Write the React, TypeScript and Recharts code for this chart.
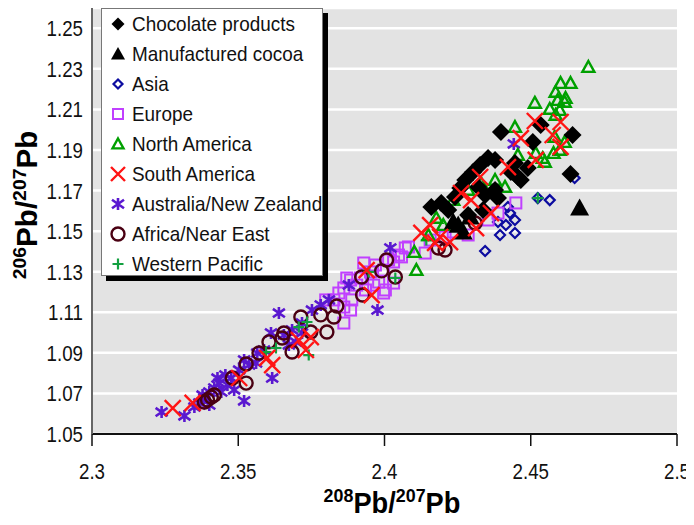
import React from 'react';
import { ScatterChart, Scatter, XAxis, YAxis, CartesianGrid, Label } from 'recharts';

const FONT = "'Liberation Sans', Arial, sans-serif";
const SQUEEZE = 0.85;

const xTicks = [2.3, 2.35, 2.4, 2.45, 2.5];
const yTicks = [1.05, 1.07, 1.09, 1.11, 1.13, 1.15, 1.17, 1.19, 1.21, 1.23, 1.25];

const chocolate = [
  [2.4398, 1.1989], [2.4534, 1.2023], [2.4507, 1.1939], [2.4643, 1.1974], [2.4636, 1.1782],
  [2.4378, 1.1851], [2.4446, 1.1836], [2.449, 1.1811], [2.4456, 1.1767], [2.4327, 1.1826],
  [2.4354, 1.186], [2.4276, 1.1752], [2.4259, 1.1713], [2.432, 1.1718], [2.4378, 1.1703],
  [2.4388, 1.1663], [2.4344, 1.1678], [2.4241, 1.1668], [2.416, 1.1619], [2.4194, 1.1639],
  [2.4218, 1.1604], [2.4303, 1.1792], [2.4432, 1.1792], [2.4466, 1.1752], [2.4286, 1.158],
  [2.4337, 1.1604],
];

const cocoa = [
  [2.4667, 1.1614], [2.4252, 1.153], [2.4293, 1.157], [2.4269, 1.1496], [2.4235, 1.1545],
];

const asia = [
  [2.4524, 1.1663], [2.4565, 1.1653], [2.465, 1.1762], [2.4422, 1.1619], [2.4429, 1.1589],
  [2.4446, 1.1555], [2.4415, 1.153], [2.4395, 1.1481], [2.4446, 1.1491], [2.4344, 1.1402],
  [2.4388, 1.1545],
];

const europe = [
  [2.4449, 1.1639], [2.4388, 1.1589], [2.4354, 1.1555], [2.4286, 1.1481], [2.4207, 1.1471],
  [2.4139, 1.1392], [2.4082, 1.1422], [2.4058, 1.1373], [2.4071, 1.1417], [2.4031, 1.1348],
  [2.4031, 1.1244], [2.4003, 1.121], [2.3997, 1.1308], [2.398, 1.1249], [2.3969, 1.1333],
  [2.3952, 1.1299], [2.3929, 1.1343], [2.3918, 1.1269], [2.3905, 1.1234], [2.3884, 1.1259],
  [2.3871, 1.1269], [2.3861, 1.122], [2.3844, 1.1195], [2.3827, 1.1161], [2.3799, 1.1161],
  [2.3861, 1.1126], [2.3884, 1.1111], [2.3861, 1.1047], [2.3888, 1.1161], [2.3997, 1.1195],
  [2.3935, 1.121], [2.3963, 1.1234], [2.4014, 1.1358], [2.4048, 1.1382], [2.4156, 1.1456],
  [2.4235, 1.1496],
];

const northAmerica = [
  [2.4697, 1.2309], [2.4602, 1.223], [2.4636, 1.223], [2.4585, 1.2186], [2.4619, 1.2156],
  [2.4592, 1.2146], [2.4616, 1.2137], [2.4514, 1.2132], [2.4565, 1.2102], [2.4599, 1.2097],
  [2.4585, 1.2073], [2.4446, 1.2013], [2.4582, 1.1964], [2.4616, 1.1939], [2.4599, 1.19],
  [2.4578, 1.1885], [2.4541, 1.186], [2.4548, 1.1841], [2.4517, 1.1885], [2.4456, 1.1875],
  [2.4412, 1.1718], [2.4378, 1.1752], [2.433, 1.1737], [2.4177, 1.1565], [2.4102, 1.1397],
  [2.4109, 1.1308], [2.4286, 1.1703], [2.4201, 1.153], [2.415, 1.148], [2.4235, 1.1653],
];

const southAmerica = [
  [2.4514, 1.2043], [2.4602, 1.2038], [2.4602, 1.1915], [2.4517, 1.1851], [2.4466, 1.1959],
  [2.4422, 1.1816], [2.4327, 1.1767], [2.4296, 1.1653], [2.4262, 1.1688], [2.4364, 1.1589],
  [2.4313, 1.1515], [2.4156, 1.153], [2.4126, 1.1491], [2.419, 1.1471], [2.4224, 1.1446],
  [2.4173, 1.1442], [2.3939, 1.1308], [2.3956, 1.1185], [2.3748, 1.0978], [2.3731, 1.0914],
  [2.3616, 1.084], [2.3599, 1.0875], [2.3276, 1.0628], [2.3344, 1.0653], [2.3503, 1.0776],
  [2.3707, 1.0963], [2.4575, 1.1974],
];

const australia = [
  [2.3238, 1.0608], [2.3316, 1.0589], [2.335, 1.0633], [2.3367, 1.0653], [2.3384, 1.0677],
  [2.3401, 1.0707], [2.3418, 1.0727], [2.3435, 1.0751], [2.3442, 1.0707], [2.3463, 1.0742],
  [2.3476, 1.0776], [2.352, 1.0663], [2.3503, 1.0815], [2.3537, 1.084], [2.3561, 1.085],
  [2.3565, 1.0899], [2.3588, 1.0914], [2.3616, 1.0776], [2.3639, 1.1096], [2.3612, 1.0998],
  [2.3656, 1.0988], [2.3684, 1.1013], [2.3718, 1.1047], [2.3697, 1.0954], [2.3752, 1.1111],
  [2.3782, 1.1136], [2.3718, 1.0998], [2.381, 1.1161], [2.3976, 1.1111], [2.402, 1.1417],
  [2.4442, 1.193], [2.352, 1.0865], [2.3486, 1.0717], [2.3401, 1.0643], [2.3673, 1.0939],
  [2.3878, 1.1234], [2.3378, 1.0692], [2.3429, 1.0776], [2.3456, 1.0791],
];

const africa = [
  [2.3384, 1.0658], [2.3395, 1.0668], [2.3408, 1.0682], [2.3418, 1.0692], [2.348, 1.0776],
  [2.3527, 1.0751], [2.3527, 1.0845], [2.3571, 1.0899], [2.3605, 1.0954], [2.3656, 1.0998],
  [2.365, 1.0973], [2.3684, 1.0904], [2.3714, 1.1077], [2.3748, 1.1003], [2.3782, 1.1087],
  [2.3803, 1.1003], [2.3837, 1.1131], [2.3827, 1.1077], [2.3922, 1.1274], [2.3925, 1.1185],
  [2.399, 1.1304], [2.4007, 1.1358], [2.4037, 1.1274], [2.4184, 1.1417], [2.4207, 1.1407],
  [2.431, 1.154],
];

const westernPacific = [
  [2.3946, 1.1299], [2.4037, 1.1269], [2.3707, 1.1027], [2.3735, 1.1052], [2.3595, 1.0904],
  [2.3629, 1.0924], [2.3741, 1.0889], [2.4524, 1.1663], [2.4143, 1.1456],
];

const toPoints = (arr: number[][]) => arr.map(([x, y]) => ({ x, y }));

type ShapeProps = { cx?: number; cy?: number };

const diamond = (r: number, fill: string, stroke: string, sw: number) => ({ cx = 0, cy = 0 }: ShapeProps) => (
  <path d={`M${cx},${cy - r}L${cx + r},${cy}L${cx},${cy + r}L${cx - r},${cy}Z`} fill={fill} stroke={stroke} strokeWidth={sw} />
);
const triangle = (r: number, fill: string, stroke: string, sw: number) => ({ cx = 0, cy = 0 }: ShapeProps) => (
  <path d={`M${cx},${cy - r}L${cx + r},${cy + r * 0.8}L${cx - r},${cy + r * 0.8}Z`} fill={fill} stroke={stroke} strokeWidth={sw} strokeLinejoin="miter" />
);
const square = (r: number, stroke: string, sw: number) => ({ cx = 0, cy = 0 }: ShapeProps) => (
  <rect x={cx - r} y={cy - r} width={r * 2} height={r * 2} fill="none" stroke={stroke} strokeWidth={sw} />
);
const cross = (r: number, stroke: string, sw: number) => ({ cx = 0, cy = 0 }: ShapeProps) => (
  <path d={`M${cx - r},${cy - r}L${cx + r},${cy + r}M${cx + r},${cy - r}L${cx - r},${cy + r}`} stroke={stroke} strokeWidth={sw} />
);
const star = (r: number, stroke: string, sw: number) => ({ cx = 0, cy = 0 }: ShapeProps) => (
  <path d={`M${cx - r},${cy - r * 0.7}L${cx + r},${cy + r * 0.7}M${cx + r},${cy - r * 0.7}L${cx - r},${cy + r * 0.7}M${cx},${cy - r}L${cx},${cy + r}`} stroke={stroke} strokeWidth={sw} />
);
const circle = (r: number, stroke: string, sw: number) => ({ cx = 0, cy = 0 }: ShapeProps) => (
  <circle cx={cx} cy={cy} r={r} fill="none" stroke={stroke} strokeWidth={sw} />
);
const plus = (r: number, stroke: string, sw: number) => ({ cx = 0, cy = 0 }: ShapeProps) => (
  <path d={`M${cx - r},${cy}L${cx + r},${cy}M${cx},${cy - r}L${cx},${cy + r}`} stroke={stroke} strokeWidth={sw} />
);

const series = [
  { name: 'Chocolate products', data: chocolate, shape: diamond(9, '#000', '#000', 0), legend: diamond(6.5, '#000', '#000', 0) },
  { name: 'Manufactured cocoa', data: cocoa, shape: triangle(9.5, '#000', '#000', 0), legend: triangle(7, '#000', '#000', 0) },
  { name: 'Asia', data: asia, shape: diamond(5, 'none', '#0c0ca0', 2.2), legend: diamond(4.5, 'none', '#0c0ca0', 2.2) },
  { name: 'Europe', data: europe, shape: square(5.5, '#c040ff', 2), legend: square(5, '#c040ff', 2) },
  { name: 'North America', data: northAmerica, shape: triangle(6, 'none', '#00a000', 2.4), legend: triangle(5.5, 'none', '#00a000', 2.4) },
  { name: 'South America', data: southAmerica, shape: cross(8, '#ff1414', 2.4), legend: cross(7, '#ff1414', 2.4) },
  { name: 'Australia/New Zealand', data: australia, shape: star(6, '#5a18d0', 2.6), legend: star(6, '#5a18d0', 2.6) },
  { name: 'Africa/Near East', data: africa, shape: circle(6.5, '#4a0012', 2.4), legend: circle(6.5, '#4a0012', 2.4) },
  { name: 'Western Pacific', data: westernPacific, shape: plus(5.5, '#12a040', 2.2), legend: plus(5.5, '#12a040', 2.2) },
];

const drawOrder = [
  'Asia', 'Europe', 'Australia/New Zealand', 'Africa/Near East', 'Western Pacific',
  'North America', 'Chocolate products', 'Manufactured cocoa', 'South America',
];

const XTick = ({ x, y, payload }: any) => (
  <text transform={`translate(${x},${y + 31}) scale(${SQUEEZE},1)`} textAnchor="middle" fontFamily={FONT} fontSize={22} fill="#111">
    {String(payload.value)}
  </text>
);

const YTick = ({ x, y, payload }: any) => (
  <text transform={`translate(${x},${y + 8}) scale(${SQUEEZE},1)`} textAnchor="end" fontFamily={FONT} fontSize={22} fill="#111">
    {payload.value.toFixed(2)}
  </text>
);

const XTitle = () => (
  <text transform={`translate(384,505) scale(0.94,1)`} textAnchor="middle" fontFamily={FONT} fontWeight="bold" fontSize={29} fill="#000">
    <tspan fontSize={19} dy={-11}>208</tspan>
    <tspan dy={11}>Pb/</tspan>
    <tspan fontSize={19} dy={-11}>207</tspan>
    <tspan dy={11}>Pb</tspan>
  </text>
);

const YTitle = () => (
  <text transform="translate(29,197) rotate(-90) scale(1.02,1)" textAnchor="middle" fontFamily={FONT} fontWeight="bold" fontSize={29} fill="#000">
    <tspan fontSize={19} dy={-11}>206</tspan>
    <tspan dy={11}>Pb/</tspan>
    <tspan fontSize={19} dy={-11}>207</tspan>
    <tspan dy={11}>Pb</tspan>
  </text>
);

export default function App() {
  return (
    <div style={{ position: 'relative', width: 686, height: 517 }}>
      <ScatterChart width={686} height={517} margin={{ top: 0, right: 17, left: 0, bottom: 0 }} style={{ overflow: 'visible' }}>
        <CartesianGrid horizontal vertical={false} fill="#e3e3e3" stroke="#ffffff" strokeWidth={2.5} />
        <XAxis
          type="number"
          dataKey="x"
          domain={[2.3, 2.5]}
          ticks={xTicks}
          allowDataOverflow
          height={91}
          axisLine={{ stroke: '#111', strokeWidth: 2 }}
          tickLine={{ stroke: '#111', strokeWidth: 1.5 }}
          tickSize={12}
          tick={XTick}
        >
          <Label content={XTitle} />
        </XAxis>
        <YAxis
          type="number"
          dataKey="y"
          domain={[1.05, 1.26]}
          ticks={yTicks}
          allowDataOverflow
          width={84}
          axisLine={{ stroke: '#666', strokeWidth: 2 }}
          tickLine={false}
          tickSize={0}
          tickMargin={9}
          tick={YTick}
        >
          <Label content={YTitle} />
        </YAxis>
        {drawOrder.map((n) => {
          const s = series.find((d) => d.name === n)!;
          return (
            <Scatter key={n} name={n} data={toPoints(s.data)} shape={s.shape} isAnimationActive={false} />
          );
        })}
      </ScatterChart>
      <div
        style={{
          position: 'absolute',
          left: 93,
          top: 0,
          width: 220,
          height: 266,
          background: '#fff',
          border: '1px solid #777',
          boxShadow: '5px 5px 0 #000',
          fontFamily: FONT,
          fontSize: 21,
          color: '#111',
        }}
      >
        {series.map((s, i) => (
          <div key={s.name} style={{ position: 'absolute', left: 0, top: i * 30, height: 30, display: 'flex', alignItems: 'center', whiteSpace: 'nowrap' }}>
            <svg width={30} height={30} style={{ display: 'block', flex: 'none' }}>
              {s.legend({ cx: 16, cy: 15 })}
            </svg>
            <span style={{ display: 'inline-block', transform: 'scaleX(0.9)', transformOrigin: 'left center' }}>{s.name}</span>
          </div>
        ))}
      </div>
    </div>
  );
}
